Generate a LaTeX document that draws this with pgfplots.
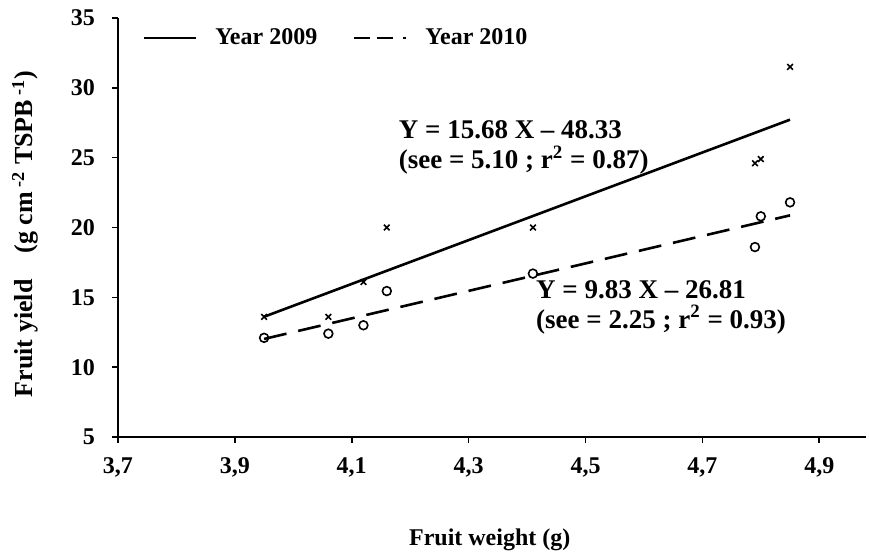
\documentclass[border=0pt]{standalone}
\usepackage{fontspec}
\setmainfont{Liberation Serif}
\usepackage{pgfplots}
\pgfplotsset{compat=1.18}
\begin{document}
\begin{tikzpicture}
\useasboundingbox (-59pt,-60pt) rectangle (375.5pt,218.5pt);
\begin{axis}[
  at={(0pt,0pt)}, anchor=south west,
  scale only axis, width=374pt, height=209.5pt,
  xmin=3.7, xmax=4.98, ymin=5, ymax=35,
  axis lines*=left,
  axis line style={line width=1pt, -},
  xtick={3.7,3.9,4.1,4.3,4.5,4.7,4.9},
  xticklabels={{3,7},{3,9},{4,1},{4,3},{4,5},{4,7},{4,9}},
  ytick={5,10,15,20,25,30,35},
  tick align=outside, major tick length=3pt,
  tick style={black, line width=0.8pt},
  ticklabel style={font=\bfseries\fontsize{12}{14}\selectfont},
  /pgf/number format/assume math mode=true,
  xticklabel style={yshift=-4pt},
  yticklabel style={xshift=-5pt},
  xlabel={Fruit weight (g)},
  xlabel style={at={(axis description cs:0.497,-0.246)}, anchor=center, font=\bfseries\fontsize{12}{14}\selectfont},
  ylabel={Fruit yield\quad(g cm\textsuperscript{ -2} TSPB\textsuperscript{ -1})},
  ylabel style={at={(axis description cs:-0.124,0.485)}, anchor=center, font=\bfseries\fontsize{13}{15}\selectfont},
  legend style={draw=none, fill=none, at={(axis description cs:0.025,0.995)}, anchor=north west,
    legend columns=2, font=\bfseries\fontsize{12}{14}\selectfont,
    /tikz/every odd column/.append style={column sep=7pt},
    /tikz/every even column/.append style={column sep=16pt}},
  legend cell align=left,
]
\addplot[only marks, mark=x, mark size=2pt, black, mark options={line width=0.8pt}, forget plot] coordinates {
(3.95,13.6) (4.06,13.6) (4.12,16.1) (4.16,20.0) (4.41,20.0) (4.79,24.6) (4.80,24.9) (4.85,31.5)};
\addplot[only marks, mark=o, mark size=2.2pt, black, mark options={line width=0.8pt}, forget plot] coordinates {
(3.95,12.1) (4.06,12.4) (4.12,13.0) (4.16,15.45) (4.41,16.7) (4.79,18.6) (4.80,20.8) (4.85,21.8)};
\addplot[black, line width=1.3pt,
  legend image code/.code={\draw[black, line width=1.1pt] (0pt,0pt) -- (26pt,0pt);}]
  coordinates {(3.95,13.61) (4.85,27.72)};
\addlegendentry{Year 2009}
\addplot[black, line width=1.3pt, dash pattern=on 11.5pt off 6pt,
  legend image code/.code={\draw[black, line width=1.1pt, dash pattern=on 8pt off 3.5pt on 8pt off 5pt on 1.5pt off 10pt] (0pt,0pt) -- (26pt,0pt);}]
  coordinates {(3.95,12.02) (4.85,20.87)};
\addlegendentry{Year 2010}
\node[anchor=west, align=left, font=\bfseries\fontsize{13.5}{15}\selectfont, inner sep=0pt] at (axis cs:4.18,25.7)
  {Y = 15.68 X -- 48.33\\(see = 5.10 ; r\textsuperscript{2} = 0.87)};
\node[anchor=west, align=left, font=\bfseries\fontsize{13.5}{15}\selectfont, inner sep=0pt] at (axis cs:4.415,14.3)
  {Y = 9.83 X -- 26.81\\(see = 2.25 ; r\textsuperscript{2} = 0.93)};
\end{axis}
\end{tikzpicture}
\end{document}
